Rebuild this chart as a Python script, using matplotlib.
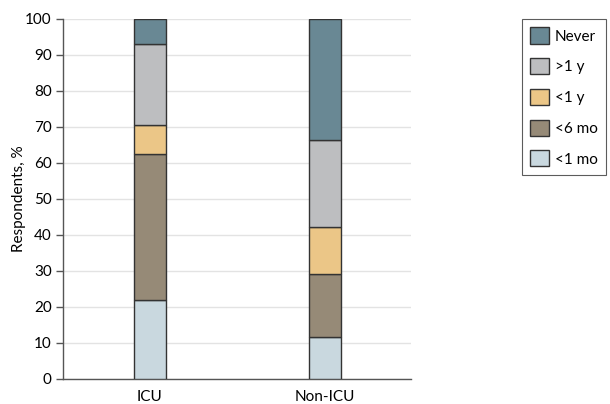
import matplotlib.pyplot as plt
import numpy as np

plt.rcParams['font.family'] = ['Lato', 'DejaVu Sans']

groups = ['ICU', 'Non-ICU']
categories = ['<1 mo', '<6 mo', '<1 y', '>1 y', 'Never']
values = {
    '<1 mo': [21.9, 11.7],
    '<6 mo': [40.7, 17.4],
    '<1 y': [8.0, 13.2],
    '>1 y': [22.4, 24.1],
    'Never': [7.0, 33.6],
}
colors = {
    '<1 mo': '#c9d8df',
    '<6 mo': '#968a77',
    '<1 y': '#ebc687',
    '>1 y': '#bdbec0',
    'Never': '#698894',
}

fig = plt.figure(figsize=(6.1, 4.04), dpi=100)
ax = fig.add_axes([0.103, 0.062, 0.571, 0.891])

ind = np.arange(len(groups))
bottom = np.zeros(len(groups))
handles = {}
for cat in categories:
    vals = np.array(values[cat])
    b = ax.bar(ind, vals, width=0.182, bottom=bottom, color=colors[cat],
               edgecolor='#333333', linewidth=1.0, zorder=3)
    handles[cat] = b
    bottom += vals

ax.set_xlim(-0.495, 1.49)
ax.set_ylim(0, 100)
ax.set_yticks(np.arange(0, 101, 10))
ax.set_xticks(ind)
ax.set_xticklabels(groups, fontsize=11)
ax.tick_params(axis='y', labelsize=11, length=5, color='#555555', width=1, pad=3)
ax.tick_params(axis='x', length=0, pad=8)
ax.yaxis.grid(True, color='#e3e3e3', linewidth=1, zorder=0)
ax.set_axisbelow(True)
for s in ['top', 'right']:
    ax.spines[s].set_visible(False)
for s in ['left', 'bottom']:
    ax.spines[s].set_color('#555555')
    ax.spines[s].set_linewidth(1)
ax.set_ylabel('Respondents, %', fontsize=11)
ax.yaxis.set_label_coords(-0.105, 0.5)

order = categories[::-1]
leg = fig.legend([handles[c] for c in order], order, loc='upper right',
                 bbox_to_anchor=(606 / 610, 0.953), fontsize=11, frameon=True,
                 fancybox=False, edgecolor='#333333', handlelength=1.25,
                 handleheight=1.25, labelspacing=0.95, handletextpad=0.35,
                 borderpad=0.55, borderaxespad=0)
leg.get_frame().set_linewidth(0.8)

fig.savefig('out.png', dpi=100)
